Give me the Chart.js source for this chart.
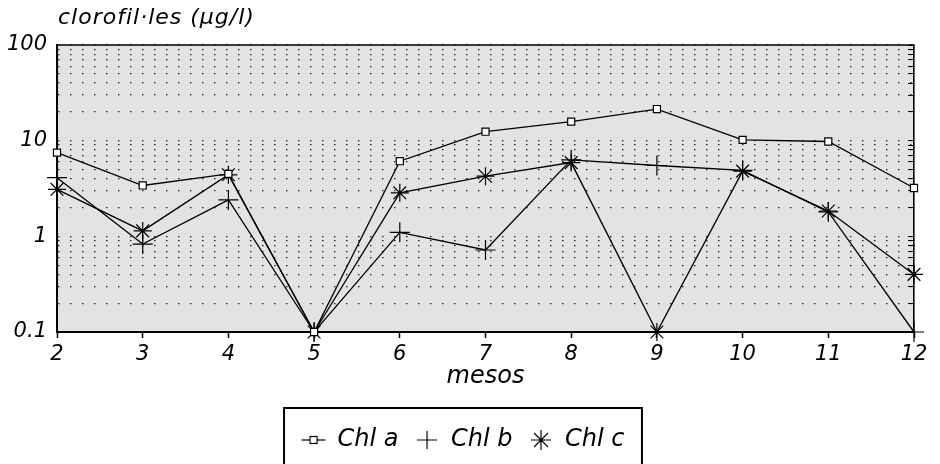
<!DOCTYPE html>
<html lang="ca">
<head>
<meta charset="UTF-8">
<title>clorofil·les</title>
<script src="https://cdn.jsdelivr.net/npm/chart.js"></script>
<style>
    body {
        margin: 0;
        background: #fff;
    }
    .wrap {
        position: relative;
        width: 940px;
        height: 464px;
    }
    .wrap canvas {
        position: absolute;
        left: 0;
        top: 0;
    }
    .ytitle {
        position: absolute;
        left: 58px;
        top: 4px;
        font: italic 22px 'DejaVu Sans', sans-serif;
        letter-spacing: 1px;
        color: #000;
        white-space: pre;
    }
</style>
</head>
<body>
<div class="wrap">
    <canvas id="chl" width="940" height="464"></canvas>
    <div class="ytitle">clorofil·les (µg/l)</div>
</div>
<script>
// months on the x axis
const months = ['2', '3', '4', '5', '6', '7', '8', '9', '10', '11', '12'];
// chlorophyll concentrations (µg/l)
const chlA = [7.5, 3.4, 4.5, 0.1, 6.1, 12.4, 15.8, 21.4, 10.2, 9.8, 3.2];
const chlB = [4.1, 0.83, 2.4, 0.1, 1.1, 0.72, 6.3, 5.5, 4.9, 1.8, 0.1];
const chlC = [3.1, 1.14, 4.4, 0.1, 2.85, 4.25, 5.9, 0.1, 4.8, 1.84, 0.4];
const seriesNames = ['Chl a', 'Chl b', 'Chl c'];
// labelled decades of the y axis
const yDecades = [0.1, 1, 10, 100];
const yTickLabels = ['0.1', '1', '10', '100'];

const FONT = "'DejaVu Sans', sans-serif";

// one tick per 1..9 step of each decade, only decades get a label
function logTicks() {
    const out = [];
    yDecades.forEach((d, i) => {
        if (i === yDecades.length - 1) {
            out.push({value: d});
            return;
        }
        for (let m = 1; m <= 9; m++) out.push({value: m === 1 ? d : +(d * m).toPrecision(3)});
    });
    return out;
}

// small canvases used as legend symbols
function symbolCanvas(draw) {
    const c = document.createElement('canvas');
    c.width = 26;
    c.height = 24;
    const g = c.getContext('2d');
    g.strokeStyle = '#000';
    g.lineWidth = 1.2;
    draw(g);
    return c;
}
const legendSymbols = [
    symbolCanvas(g => {
        g.beginPath(); g.moveTo(1, 12); g.lineTo(25, 12); g.stroke();
        g.fillStyle = '#fff';
        g.fillRect(9.5, 8.5, 7, 7);
        g.strokeRect(9.5, 8.5, 7, 7);
    }),
    symbolCanvas(g => {
        g.beginPath();
        g.moveTo(3, 12); g.lineTo(23, 12);
        g.moveTo(13, 3); g.lineTo(13, 21);
        g.stroke();
    }),
    symbolCanvas(g => {
        g.beginPath();
        g.moveTo(3, 12); g.lineTo(23, 12);
        g.moveTo(13, 2); g.lineTo(13, 22);
        g.moveTo(6, 5); g.lineTo(20, 19);
        g.moveTo(20, 5); g.lineTo(6, 19);
        g.stroke();
    })
];

const plotFrame = {
    id: 'plotFrame',
    beforeDraw(chart) {
        const {ctx, chartArea: a} = chart;
        ctx.save();
        ctx.fillStyle = '#e3e3e3';
        ctx.fillRect(a.left, a.top, a.right - a.left, a.bottom - a.top);
        ctx.restore();
    },
    afterDraw(chart) {
        const {ctx, chartArea: a} = chart;
        ctx.save();
        ctx.strokeStyle = '#000';
        ctx.lineWidth = 1.6;
        ctx.beginPath();
        ctx.moveTo(a.left, a.top);
        ctx.lineTo(a.right, a.top);
        ctx.stroke();
        // box around the legend, open at the bottom edge of the page
        const lg = chart.legend;
        const hb = lg.legendHitBoxes;
        const last = hb[hb.length - 1];
        const left = hb[0].left - 17.5;
        const right = last.left + last.width + 17.5;
        const top = lg.top - 3.5;
        ctx.lineWidth = 2;
        ctx.strokeRect(left, top, right - left, 80);
        ctx.restore();
    }
};

const tickFont = {family: FONT, size: 21, style: 'italic'};

new Chart(document.getElementById('chl'), {
    type: 'line',
    data: {
        labels: months,
        datasets: [
            {label: seriesNames[0], data: chlA, pointStyle: 'rect', pointRadius: 5, pointBackgroundColor: '#fff'},
            {label: seriesNames[1], data: chlB, pointStyle: 'cross', pointRadius: 10},
            {label: seriesNames[2], data: chlC, pointStyle: 'star', pointRadius: 9}
        ].map(d => Object.assign({
            borderColor: '#000',
            borderWidth: 1.3,
            pointBorderColor: '#000',
            pointBorderWidth: 1.2,
            tension: 0,
            clip: false
        }, d))
    },
    options: {
        responsive: false,
        animation: false,
        events: [],
        layout: {padding: {left: 0, right: 14, top: 45, bottom: 2}},
        scales: {
            x: {
                afterFit: s => { s.height = 79.5; },
                grid: {drawOnChartArea: false, drawTicks: true, tickLength: 6, tickColor: '#000', tickWidth: 1.5},
                border: {display: true, color: '#000', width: 2},
                ticks: {color: '#000', padding: 4, font: tickFont, maxRotation: 0, autoSkip: false},
                title: {display: true, text: 'mesos', color: '#000', font: {family: FONT, size: 24, style: 'italic'}, padding: {top: 0, bottom: 20.6}}
            },
            y: {
                type: 'logarithmic',
                min: yDecades[0],
                max: yDecades[yDecades.length - 1],
                afterFit: s => { s.width = 57; },
                afterBuildTicks: s => { s.ticks = logTicks(); },
                grid: {drawTicks: false, color: '#222', lineWidth: 1.2},
                border: {display: true, color: '#000', width: 2, dash: [1.5, 10.5]},
                ticks: {
                    color: '#000',
                    padding: 10,
                    autoSkip: false,
                    font: tickFont,
                    callback: v => {
                        const i = yDecades.indexOf(v);
                        return i >= 0 ? yTickLabels[i] : '';
                    }
                }
            },
            yRight: {
                type: 'logarithmic',
                position: 'right',
                min: yDecades[0],
                max: yDecades[yDecades.length - 1],
                afterFit: s => { s.width = 12; },
                afterBuildTicks: s => { s.ticks = logTicks(); },
                grid: {drawOnChartArea: false, drawTicks: true, tickLength: -6, tickColor: '#000', tickWidth: 1},
                border: {display: true, color: '#000', width: 1.6},
                ticks: {display: false}
            }
        },
        plugins: {
            tooltip: {enabled: false},
            legend: {
                position: 'bottom',
                labels: {
                    usePointStyle: true,
                    color: '#000',
                    padding: 16.5,
                    font: {family: FONT, size: 24, style: 'italic'},
                    generateLabels: chart => Chart.defaults.plugins.legend.labels.generateLabels(chart)
                        .map((item, i) => Object.assign(item, {pointStyle: legendSymbols[i], lineWidth: 0}))
                }
            }
        }
    },
    plugins: [plotFrame]
});
</script>
</body>
</html>
